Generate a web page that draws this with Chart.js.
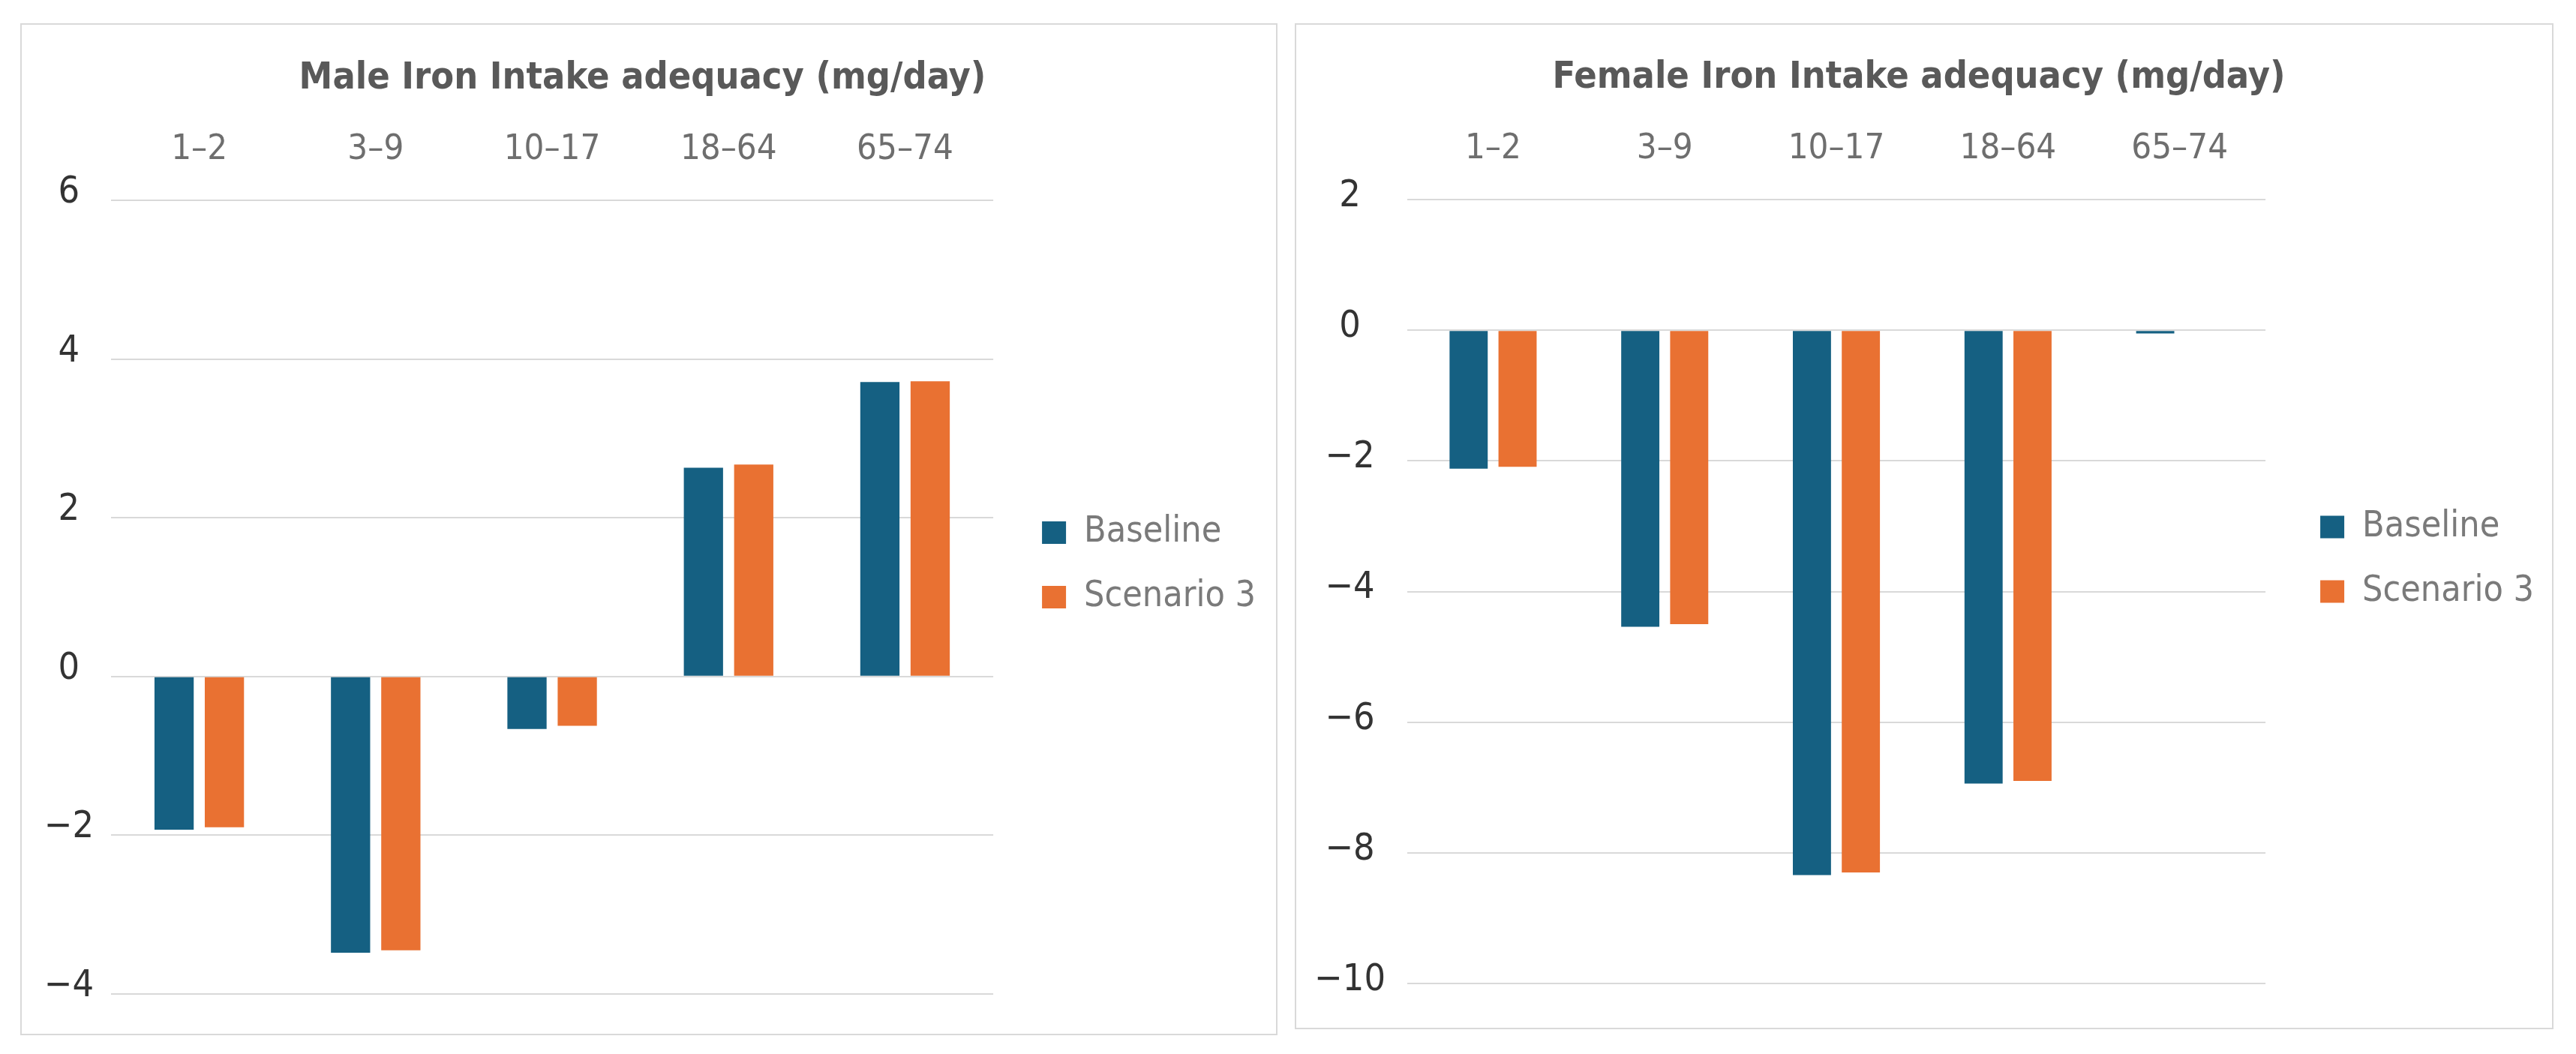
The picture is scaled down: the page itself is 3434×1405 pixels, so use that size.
<!doctype html>
<html lang="en">
<head>
  <meta charset="UTF-8">
  <title>Iron Intake adequacy</title>
  <script src="https://cdn.jsdelivr.net/npm/chart.js@4.4.0/dist/chart.umd.min.js"></script>
  <style>
      html, body {
          margin: 0;
          background: #ffffff;
      }
      body {
          width: 3434px;
          height: 1405px;
          position: relative;
      }
      .panel {
          position: absolute;
          box-sizing: border-box;
          border: 2px solid #d9d9d9;
          background: #ffffff;
      }
  </style>
</head>
<body>

<div class="panel" style="left:27px; top:31px; width:1676px; height:1349px;">
  <canvas id="maleChart"></canvas>
</div>
<div class="panel" style="left:1726px; top:31px; width:1678px; height:1341px;">
  <canvas id="femaleChart"></canvas>
</div>

<script>
  const ageGroups = ['1–2', '3–9', '10–17', '18–64', '65–74']

  const maleBaseline = [-1.93, -3.48, -0.66, 2.63, 3.71]
  const maleScenario3 = [-1.90, -3.45, -0.62, 2.67, 3.72]
  const maleTicks = [-4, -2, 0, 2, 4, 6]

  const femaleBaseline = [-2.12, -4.54, -8.34, -6.94, -0.05]
  const femaleScenario3 = [-2.09, -4.50, -8.30, -6.90, 0]
  const femaleTicks = [-10, -8, -6, -4, -2, 0, 2]

  const FONT = "'Liberation Sans Narrow', 'DejaVu Sans Condensed', 'Roboto Condensed', Roboto, sans-serif"
  const BLUE = '#156082'
  const ORANGE = '#e97132'

  function makeChart(el, title, baseline, scenario, ticks, fit) {
    return new Chart(el, {
      type: 'bar',
      data: {
        labels: ageGroups,
        datasets: [
          { label: 'Baseline', data: baseline, backgroundColor: BLUE, borderWidth: 0, yAxisID: 'y' },
          { label: 'Scenario 3', data: scenario, backgroundColor: ORANGE, borderWidth: 0, yAxisID: 'y' }
        ]
      },
      options: {
        responsive: true,
        maintainAspectRatio: false,
        animation: false,
        categoryPercentage: 0.57,
        barPercentage: 0.78,
        layout: {
          padding: { left: 0, top: 0, right: fit.padRight, bottom: fit.padBottom }
        },
        plugins: {
          title: {
            display: true,
            text: title,
            color: '#595959',
            font: { family: FONT, size: 50, weight: 'bold', lineHeight: 1.2 },
            padding: { top: fit.titleTop, bottom: 30 }
          },
          legend: {
            position: 'right',
            fullSize: false,
            maxWidth: 400,
            labels: {
              boxWidth: 32,
              boxHeight: 30,
              padding: 38,
              color: '#7a7a7a',
              font: { family: FONT, size: 48 },
              generateLabels: (chart) => {
                const items = Chart.defaults.plugins.legend.labels.generateLabels(chart)
                // empty row so the two keys sit a little above the middle, like the original
                items.push({ text: '', fillStyle: 'rgba(0,0,0,0)', strokeStyle: 'rgba(0,0,0,0)', lineWidth: 0 })
                return items
              }
            }
          },
          tooltip: { enabled: false }
        },
        scales: {
          x: {
            position: 'top',
            grid: { display: false, drawTicks: false },
            border: { display: false },
            ticks: {
              color: '#6e6e6e',
              padding: 39,
              font: { family: FONT, size: 47, lineHeight: 1.2 }
            },
            afterFit: (s) => { s.height = 102 }
          },
          y: {
            min: ticks[0],
            max: ticks[ticks.length - 1],
            grid: { color: '#d9d9d9', lineWidth: 2, drawTicks: false },
            border: { display: false },
            ticks: {
              stepSize: ticks[1] - ticks[0],
              color: '#333333',
              crossAlign: 'center',
              padding: fit.tickPad,
              labelOffset: fit.labelOffset,
              font: { family: FONT, size: 50 },
              callback: (v) => v < 0 ? '\u2212' + Math.abs(v) : String(v)
            },
            afterFit: (s) => { s.width = fit.axisWidth }
          },
          // empty strip between plot area and legend
          y2: {
            position: 'right',
            grid: { display: false },
            border: { display: false },
            ticks: { display: false },
            afterFit: (s) => { s.width = fit.gap }
          }
        }
      }
    })
  }

  makeChart(document.querySelector('#maleChart'), 'Male Iron Intake adequacy (mg/day)',
    maleBaseline, maleScenario3, maleTicks,
    { axisWidth: 119, tickPad: 23, labelOffset: -10, gap: 27, padRight: 17, padBottom: 51, titleTop: 42 })

  makeChart(document.querySelector('#femaleChart'), 'Female Iron Intake adequacy (mg/day)',
    femaleBaseline, femaleScenario3, femaleTicks,
    { axisWidth: 148, tickPad: 29, labelOffset: -4, gap: 35, padRight: 14, padBottom: 53, titleTop: 41 })
</script>

</body>
</html>
